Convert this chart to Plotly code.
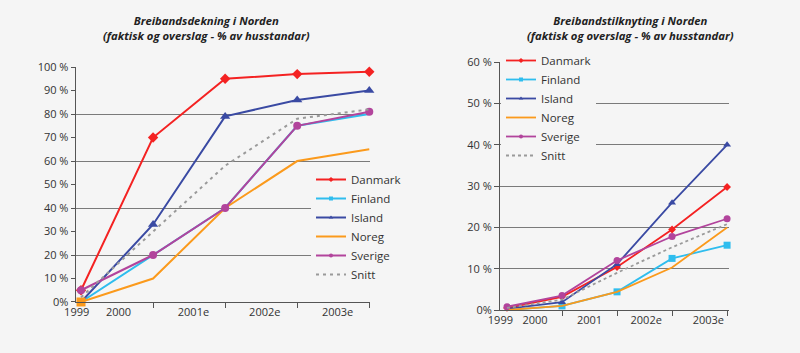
import plotly.graph_objects as go

# ---------------- data ----------------
years_left = ["1999", "2000", "2001e", "2002e", "2003e"]
years_right = ["1999", "2000", "2001", "2002e", "2003e"]
countries = ["Danmark", "Finland", "Island", "Noreg", "Sverige", "Snitt"]

# Breibandsdekning (% av husstandar)
dek_danmark = [5, 70, 95, 97, 98]
dek_finland = [0, 20, 40, 75, 80]
dek_island = [0, 33, 79, 86, 90]
dek_noreg = [0, 10, 40, 60, 65]
dek_sverige = [5, 20, 40, 75, 81]
dek_snitt = [2, 30, 58, 78, 82]

# Breibandstilknyting (% av husstandar)
til_danmark = [0.5, 3.2, 10.4, 19.5, 29.8]
til_finland = [0.0, 1.0, 4.4, 12.5, 15.7]
til_island = [0.3, 1.9, 11.1, 26.0, 40.0]
til_noreg = [0.0, 1.0, 4.4, 10.3, 20.0]
til_sverige = [0.8, 3.5, 12.0, 17.8, 22.1]
til_snitt = [0.5, 2.5, 9.0, 15.2, 20.8]

left_yticks = [0, 10, 20, 30, 40, 50, 60, 70, 80, 90, 100]
left_yticktext = ["0%", "10 %", "20 %", "30 %", "40 %", "50 %", "60 %", "70 %", "80 %", "90 %", "100 %"]
right_yticks = [0, 10, 20, 30, 40, 50, 60]
right_yticktext = ["0%", "10 %", "20 %", "30 %", "40 %", "50 %", "60 %"]

title_left = ["Breibandsdekning i Norden", "(faktisk og overslag - % av husstandar)"]
title_right = ["Breibandstilknyting i Norden", "(faktisk og overslag - % av husstandar)"]

# ---------------- style ----------------
FONT = "Open Sans"
BG = "#f5f5f5"
colors = {"Danmark": "#f42222", "Finland": "#2fbdee", "Island": "#3a4aa3",
          "Noreg": "#fb9a1c", "Sverige": "#b2449c", "Snitt": "#9a9a9a"}
legend_symbol = {"Danmark": "diamond", "Finland": "square", "Island": "triangle-up",
                 "Noreg": None, "Sverige": "circle", "Snitt": None}

fig = go.Figure()

left_series = [dek_danmark, dek_finland, dek_island, dek_noreg, dek_sverige, dek_snitt]
right_series = [til_danmark, til_finland, til_island, til_noreg, til_sverige, til_snitt]

# marker style per series: (symbol, size, per-point opacity or None); None symbol -> no markers
left_marker = {
    "Danmark": ("diamond", 8, None),
    "Finland": (None, 0, None),
    "Island": ("triangle-up", 9, [0, 1, 1, 1, 1]),
    "Noreg": ("square", 9, [1, 0, 0, 0, 0]),
    "Sverige": ("circle", 8, None),
    "Snitt": (None, 0, None),
}
right_marker = {
    "Danmark": ("diamond", 6, None),
    "Finland": ("square", 7, [0, 1, 1, 1, 1]),
    "Island": ("triangle-up", 7, [0, 1, 1, 1, 1]),
    "Noreg": (None, 0, None),
    "Sverige": ("circle", 7, None),
    "Snitt": (None, 0, None),
}


def add_series(names, series, markers, xa, ya, leg, width, snitt_dash, n, leg_width):
    for name, ys in zip(names, series):
        sym, size, op = markers[name]
        dash = snitt_dash if name == "Snitt" else "solid"
        kw = {}
        if sym is None:
            mode = "lines"
        else:
            mode = "lines+markers"
            m = dict(color=colors[name], symbol=sym, size=size)
            if op is not None:
                m["opacity"] = op
            kw["marker"] = m
        fig.add_trace(go.Scatter(
            x=list(range(n)), y=ys, name=name, mode=mode,
            line=dict(color=colors[name], width=width, dash=dash),
            xaxis=xa, yaxis=ya, showlegend=False,
            cliponaxis=False, **kw))
        # legend entry with small markers (as in the reference legend)
        lsym = legend_symbol[name]
        fig.add_trace(go.Scatter(
            x=[None], y=[None], name=name,
            mode="lines" if lsym is None else "lines+markers",
            line=dict(color=colors[name], width=leg_width, dash=dash),
            marker=dict(color=colors[name], symbol=lsym or "circle", size=4),
            xaxis=xa, yaxis=ya, legend=leg, showlegend=True))


add_series(countries, left_series, left_marker, "x", "y", "legend", 2, "3px,4px", len(years_left), 2)
add_series(countries, right_series, right_marker, "x2", "y2", "legend2", 1.8, "dot", len(years_right), 1.8)

axis_common = dict(showline=True, linecolor="#555555", linewidth=1, zeroline=False,
                   automargin=False,
                   tickfont=dict(family=FONT, size=11, color="#333333"))

fig.update_layout(
    width=800, height=353,
    margin=dict(l=0, r=0, t=0, b=0),
    paper_bgcolor=BG, plot_bgcolor="rgba(0,0,0,0)",
    font=dict(family=FONT, color="#333333"),
    xaxis=dict(domain=[0.0946, 0.4625], range=[-0.074, 4.01],
               tickmode="array",
               tickvals=[-0.06, 0.52, 1.56, 2.55, 3.56], ticktext=years_left,
               ticks="", showgrid=False,
               minor=dict(tickmode="array", tickvals=[1, 2, 3, 4], ticks="outside",
                          ticklen=5, tickcolor="#555555", showgrid=False),
               anchor="y", **axis_common),
    yaxis=dict(domain=[0.1445, 0.810], range=[0, 100],
               tickmode="array", tickvals=left_yticks, ticktext=left_yticktext,
               ticks="outside", ticklen=4, tickcolor="#555555",
               showgrid=False,
               minor=dict(tickmode="array", tickvals=[20, 40, 60, 80, 100],
                          showgrid=True, gridcolor="#7a7a7a", gridwidth=1.3, ticks=""),
               anchor="x", **axis_common),
    xaxis2=dict(domain=[0.625, 0.9116], range=[-0.127, 4.04],
                tickmode="array",
                tickvals=[-0.12, 0.51, 1.5, 2.53, 3.66], ticktext=years_right,
                ticks="", showgrid=False,
                minor=dict(tickmode="array", tickvals=[1, 2, 3, 4], ticks="outside",
                           ticklen=5, tickcolor="#555555", showgrid=False),
                anchor="y2", **axis_common),
    yaxis2=dict(domain=[0.1218, 0.8235], range=[0, 60],
                tickmode="array", tickvals=right_yticks, ticktext=right_yticktext,
                ticks="outside", ticklen=5, tickcolor="#555555",
                showgrid=True, gridcolor="#7a7a7a", gridwidth=1.3,
                anchor="x2", **axis_common),
    legend=dict(x=311 / 800, xanchor="left", y=1 - 165 / 353, yanchor="top",
                bgcolor=BG, borderwidth=0,
                font=dict(family=FONT, size=11.5, color="#333333"),
                tracegroupgap=0),
    legend2=dict(x=501 / 800, xanchor="left", y=1 - 46 / 353, yanchor="top",
                 bgcolor=BG, borderwidth=0,
                 font=dict(family=FONT, size=11.5, color="#333333"),
                 tracegroupgap=0),
    annotations=[
        dict(text="<b><i>" + "</i></b><br><b><i>".join(t) + "</i></b>",
             x=cx / 800, y=1 - 11 / 353, xref="paper", yref="paper",
             xanchor="center", yanchor="top", showarrow=False,
             font=dict(family=FONT, size=11.3, color="#222222"))
        for t, cx in ((title_left, 207), (title_right, 630))
    ],
)

fig.write_html("out.html")
